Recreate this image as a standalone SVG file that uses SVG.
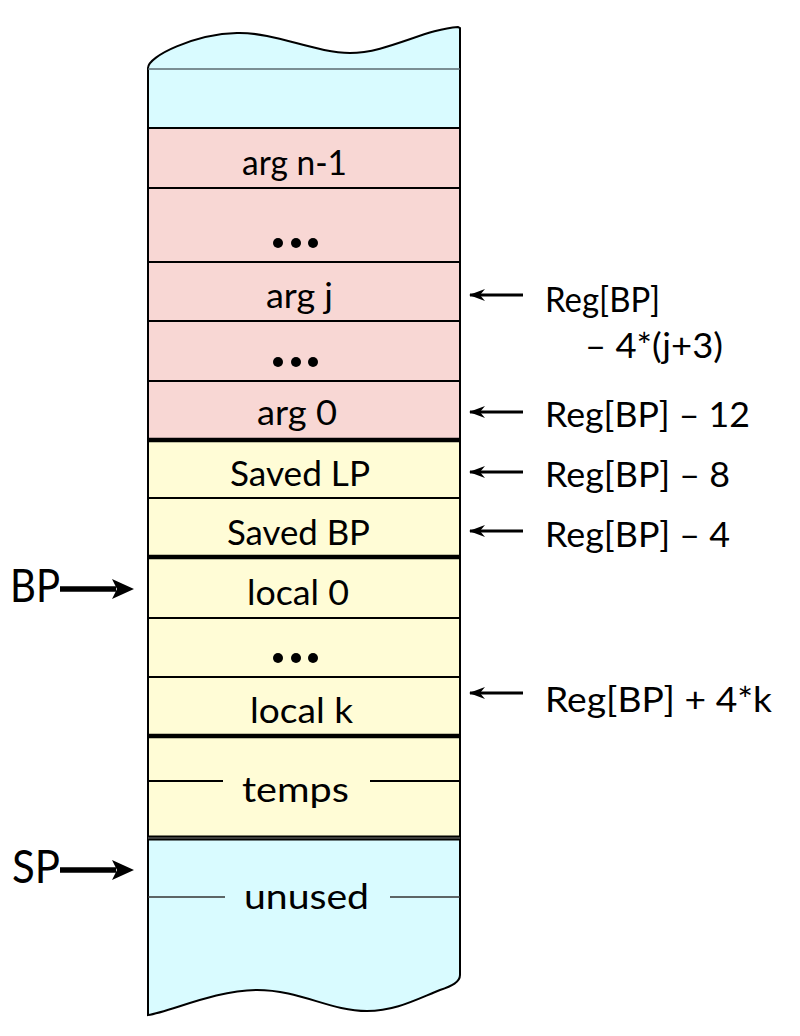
<svg xmlns="http://www.w3.org/2000/svg" width="800" height="1036" viewBox="0 0 800 1036">
<defs>
<style>
.t{font-family:Lato,"Open Sans","Liberation Sans",sans-serif;font-size:34px;fill:#000}
.big{font-size:47px}
.thin{stroke:#000;stroke-width:2;fill:none}
.thick{stroke:#000;stroke-width:4.5;fill:none}
.gray{stroke:#5a6a70;stroke-width:1.5;fill:none}
.blue{fill:#D9FBFF}
.pink{fill:#F8D7D4}
.yel{fill:#FFFCD6}
.arr{stroke:#000;stroke-width:3.2;fill:none}
.arrB{stroke:#000;stroke-width:5.5;fill:none}
</style>
<marker id="hs" viewBox="0 0 16 12" refX="15" refY="6" markerWidth="16" markerHeight="12" markerUnits="userSpaceOnUse" orient="auto">
<path d="M16,6 L0,0 L5,6 L0,12 Z" fill="#000"/>
</marker>
</defs>

<g id="top-unused">
<path class="blue" d="M148,128 V68 C148,56 195,34 237,33 C275,32 315,53 350,53 C387,53 425,29 458,27 L460,28 V128 Z"/>
<path class="thin" d="M148,128 V68 C148,56 195,34 237,33 C275,32 315,53 350,53 C387,53 425,29 458,27 L460,28 V128"/>
<line class="gray" x1="148" y1="69" x2="460" y2="69"/>
</g>

<g id="args-bg"><rect class="pink" x="148" y="128" width="312" height="312"/></g>
<g id="frame-bg"><rect class="yel" x="148" y="440" width="312" height="398"/></g>

<g id="bottom-unused">
<path class="blue" d="M148,838 H460 V975 C460,982 452,986 440,990 C415,1000 395,1011 367,1011 C330,1011 300,990 257,990 C215,990 170,1012 148,1015 Z"/>
<path class="thin" d="M460,838 V975 C460,982 452,986 440,990 C415,1000 395,1011 367,1011 C330,1011 300,990 257,990 C215,990 170,1012 148,1015 V838"/>
<line class="gray" style="stroke:#333;stroke-width:1.5" x1="148" y1="897" x2="225" y2="897"/>
<line class="gray" style="stroke:#333;stroke-width:1.5" x1="390" y1="897" x2="460" y2="897"/>
<text class="t" x="244" y="909" textLength="125" lengthAdjust="spacingAndGlyphs">unused</text>
</g>

<g id="column-border">
<line class="thin" x1="148" y1="128" x2="148" y2="838"/>
<line class="thin" x1="460" y1="128" x2="460" y2="838"/>
<line class="thin" x1="148" y1="128" x2="460" y2="128"/>
</g>

<g id="arg-n-1">
<text class="t" x="242" y="175" textLength="105" lengthAdjust="spacingAndGlyphs">arg n-1</text>
<line class="thin" x1="148" y1="188" x2="460" y2="188"/>
</g>
<g id="dots-1">
<circle cx="278" cy="243" r="5"/><circle cx="296" cy="243" r="5"/><circle cx="313" cy="243" r="5"/>
<line class="thin" x1="148" y1="262" x2="460" y2="262"/>
</g>
<g id="arg-j">
<text class="t" x="266" y="308" textLength="67" lengthAdjust="spacingAndGlyphs">arg j</text>
<line class="thin" x1="148" y1="321" x2="460" y2="321"/>
</g>
<g id="dots-2">
<circle cx="278" cy="362" r="5"/><circle cx="296" cy="362" r="5"/><circle cx="313" cy="362" r="5"/>
<line class="thin" x1="148" y1="381" x2="460" y2="381"/>
</g>
<g id="arg-0">
<text class="t" x="257" y="425" textLength="80" lengthAdjust="spacingAndGlyphs">arg 0</text>
<line class="thick" x1="148" y1="440" x2="460" y2="440"/>
</g>
<g id="saved-lp">
<text class="t" x="230" y="486" textLength="140" lengthAdjust="spacingAndGlyphs">Saved LP</text>
<line class="thin" x1="148" y1="498" x2="460" y2="498"/>
</g>
<g id="saved-bp">
<text class="t" x="227" y="545" textLength="143" lengthAdjust="spacingAndGlyphs">Saved BP</text>
<line class="thick" x1="148" y1="557" x2="460" y2="557"/>
</g>
<g id="local-0">
<text class="t" x="247" y="605" textLength="102" lengthAdjust="spacingAndGlyphs">local 0</text>
<line class="thin" x1="148" y1="618" x2="460" y2="618"/>
</g>
<g id="dots-3">
<circle cx="278" cy="658" r="5"/><circle cx="296" cy="658" r="5"/><circle cx="313" cy="658" r="5"/>
<line class="thin" x1="148" y1="677" x2="460" y2="677"/>
</g>
<g id="local-k">
<text class="t" x="250" y="723" textLength="103" lengthAdjust="spacingAndGlyphs">local k</text>
<line class="thick" x1="148" y1="736" x2="460" y2="736"/>
</g>
<g id="temps">
<line class="thin" x1="148" y1="781" x2="223" y2="781"/>
<line class="thin" x1="370" y1="781" x2="460" y2="781"/>
<text class="t" x="242" y="802" textLength="107" lengthAdjust="spacingAndGlyphs">temps</text>
<line x1="148" y1="838" x2="460" y2="838" stroke="#000" stroke-width="5"/>
<line x1="148" y1="838" x2="460" y2="838" stroke="#777" stroke-width="1.2"/>
</g>

<g id="labels-left">
<text class="t big" x="10" y="602" textLength="50" lengthAdjust="spacingAndGlyphs">BP</text>
<text class="t big" x="12" y="883" textLength="48" lengthAdjust="spacingAndGlyphs">SP</text>
</g>

<g id="labels-right">
<text class="t" x="545" y="312" textLength="115" lengthAdjust="spacingAndGlyphs">Reg[BP]</text>
<text class="t" x="585" y="358" textLength="138" lengthAdjust="spacingAndGlyphs">– 4*(j+3)</text>
<text class="t" x="545" y="427" textLength="205" lengthAdjust="spacingAndGlyphs">Reg[BP] – 12</text>
<text class="t" x="545" y="487" textLength="185" lengthAdjust="spacingAndGlyphs">Reg[BP] – 8</text>
<text class="t" x="545" y="547" textLength="185" lengthAdjust="spacingAndGlyphs">Reg[BP] – 4</text>
<text class="t" x="545" y="712" textLength="227" lengthAdjust="spacingAndGlyphs">Reg[BP] + 4*k</text>
</g>

<g id="connectors">
<line class="arrB" x1="60" y1="589" x2="116" y2="589"/>
<path d="M134,589 L112,579 L117,589 L112,599 Z" fill="#000"/>
<line class="arrB" x1="60" y1="870" x2="116" y2="870"/>
<path d="M134,870 L112,860 L117,870 L112,880 Z" fill="#000"/>
<line class="arr" x1="523" y1="295" x2="470" y2="295" marker-end="url(#hs)"/>
<line class="arr" x1="523" y1="412" x2="470" y2="412" marker-end="url(#hs)"/>
<line class="arr" x1="523" y1="472" x2="470" y2="472" marker-end="url(#hs)"/>
<line class="arr" x1="523" y1="531" x2="470" y2="531" marker-end="url(#hs)"/>
<line class="arr" x1="523" y1="693" x2="470" y2="693" marker-end="url(#hs)"/>
</g>
</svg>
